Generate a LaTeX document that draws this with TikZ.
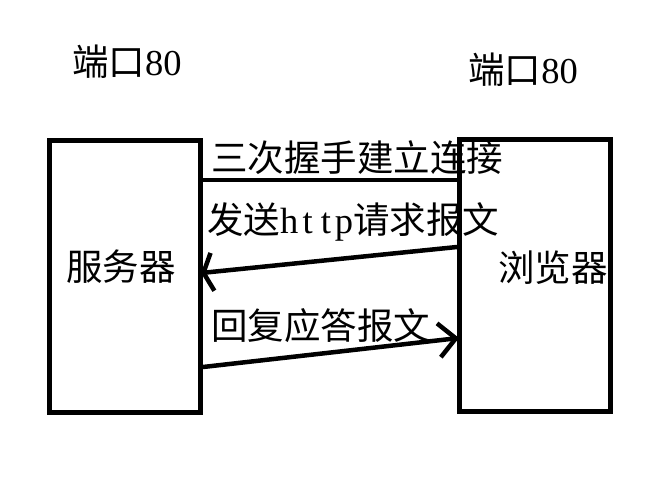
\documentclass[tikz,border=0pt]{standalone}
\usepackage{fontspec}
\setmainfont{Liberation Serif}
\newfontfamily\cjk{Noto Sans CJK SC}
\usetikzlibrary{arrows.meta}
\newcommand\halfw[1]{\makebox[0.5em]{#1}}

\begin{document}
\begin{tikzpicture}[
    x=1pt, y=-1pt,
    box/.style={draw, line width=5pt, minimum width=151pt, minimum height=272pt, inner sep=0pt},
    txt/.style={font=\fontsize{36.5}{39}\selectfont, inner sep=0pt},
    link/.style={line width=4.5pt},
    back/.style={link, -{Straight Barb[length=9pt, width=38pt, line width=4.5pt]}},
    forth/.style={link, -{Straight Barb[length=17pt, width=34pt, line width=4.5pt]}},
  ]
  \useasboundingbox (0,0) rectangle (662,488);

  % the two hosts
  \node[box] (server) at (125, 276.5) {};
  \node[box] (browser) at (535, 275) {};
  \node[txt] (servertxt) at (121, 267) {\cjk 服务器};
  \node[txt] (browsertxt) at (553, 268) {\cjk 浏览器};

  % ports
  \node[txt] (serverport) at (127, 62) {{\cjk 端口}\halfw{8}\halfw{0}};
  \node[txt] (browserport) at (523, 70) {{\cjk 端口}\halfw{8}\halfw{0}};

  % messages
  \node[txt, anchor=west] (handshake) at (211, 158) {\cjk 三次握手建立连接};
  \node[txt, anchor=west] (request) at (207, 222) {{\cjk 发送}\halfw{h}\halfw{t}\halfw{t}\halfw{p}{\cjk 请求报文}};
  \node[txt, anchor=west] (reply) at (211, 326) {\cjk 回复应答报文};

  \draw[link] (server.east |- 0,180) -- (browser.west |- 0,180);
  \draw[back] (browser.west |- 0,247) -- ([xshift=-2pt]server.east |- 0,273);
  \draw[forth] (server.east |- 0,367) -- ([xshift=2pt]browser.west |- 0,338);

\end{tikzpicture}
\end{document}
